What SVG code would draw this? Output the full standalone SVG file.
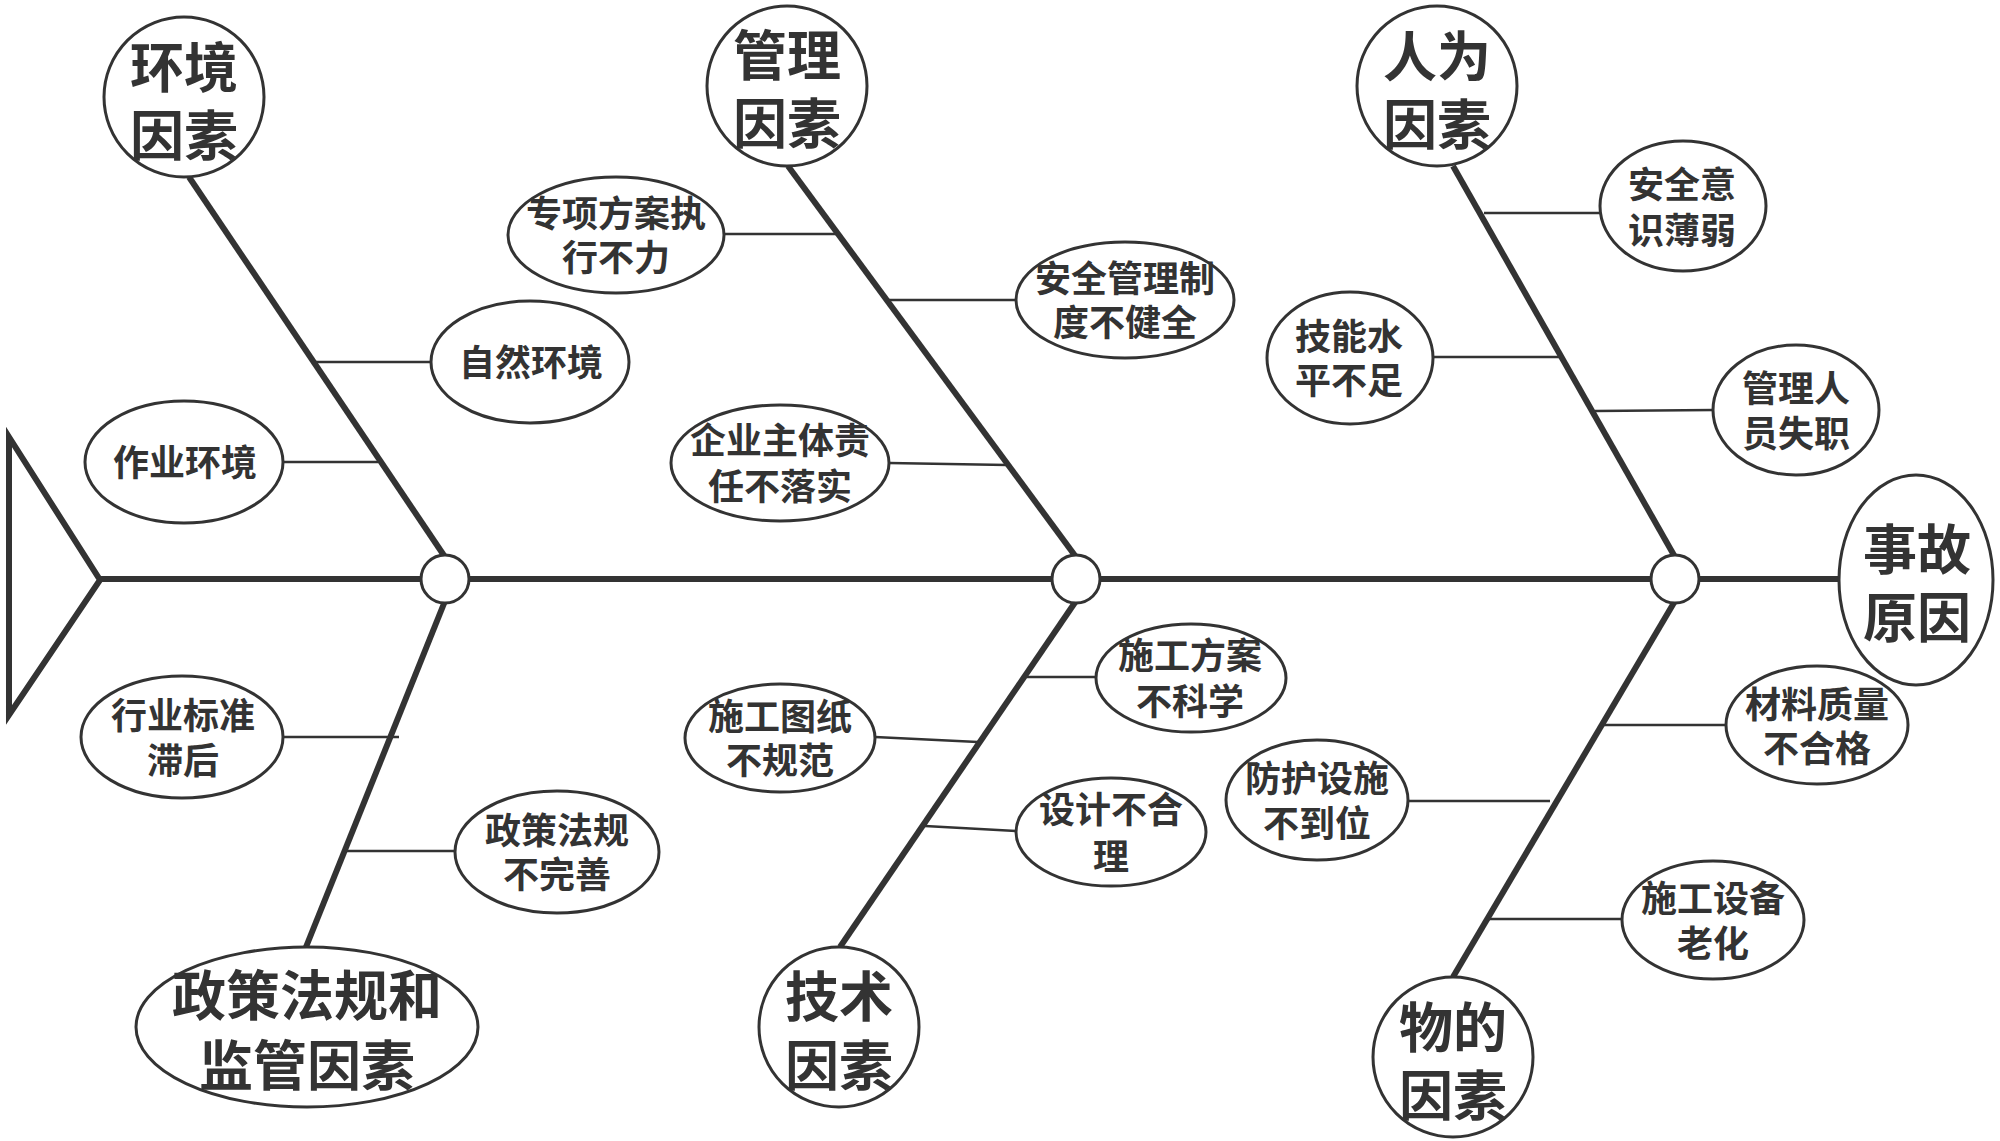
<svg xmlns="http://www.w3.org/2000/svg" width="2000" height="1141" viewBox="0 0 2000 1141">
<style>
.bg{fill:#ffffff}
.node ellipse{fill:#ffffff;stroke:#333333;stroke-width:3}
.jn{fill:#ffffff;stroke:#333333;stroke-width:3}
.t{font-family:"Noto Sans CJK SC","Noto Sans",sans-serif;font-weight:700;fill:#333333;text-anchor:middle}
.s{font-size:36px}
.b{font-size:54px}
.bone{stroke:#333333;stroke-width:6;stroke-linecap:butt;fill:none}
.spine{stroke:#333333;stroke-width:6;fill:none}
.tail{stroke:#333333;stroke-width:6;fill:none;stroke-linejoin:miter}
.con{stroke:#333333;stroke-width:2.5;fill:none}
</style>
<rect class="bg" x="0" y="0" width="2000" height="1141"/>

<g id="connectors">
  <polygon class="tail" points="9,437 100,580 9,715"/>
  <line class="spine" x1="100" y1="579" x2="1840" y2="579"/>
  <line class="bone" x1="189" y1="177" x2="445" y2="557"/>
  <line class="bone" x1="788" y1="166" x2="1076" y2="557"/>
  <line class="bone" x1="1453" y1="166" x2="1675" y2="557"/>
  <line class="bone" x1="445" y1="601" x2="306" y2="947"/>
  <line class="bone" x1="1076" y1="601" x2="840" y2="947"/>
  <line class="bone" x1="1675" y1="601" x2="1453" y2="977"/>
  <line class="con" x1="283" y1="462" x2="378" y2="462"/>
  <line class="con" x1="315" y1="362" x2="431" y2="362"/>
  <line class="con" x1="724" y1="234" x2="837" y2="234"/>
  <line class="con" x1="888" y1="300" x2="1016" y2="300"/>
  <line class="con" x1="889" y1="463" x2="1007" y2="465"/>
  <line class="con" x1="1484" y1="213" x2="1600" y2="213"/>
  <line class="con" x1="1433" y1="357" x2="1561" y2="357"/>
  <line class="con" x1="1595" y1="411" x2="1714" y2="410"/>
  <line class="con" x1="283" y1="737" x2="399" y2="737"/>
  <line class="con" x1="346" y1="851" x2="455" y2="851"/>
  <line class="con" x1="875" y1="737" x2="978" y2="742"/>
  <line class="con" x1="1027" y1="677" x2="1096" y2="677"/>
  <line class="con" x1="925" y1="826" x2="1016" y2="831"/>
  <line class="con" x1="1408" y1="801" x2="1550" y2="801"/>
  <line class="con" x1="1604" y1="725" x2="1726" y2="725"/>
  <line class="con" x1="1488" y1="919" x2="1622" y2="919"/>
  <circle class="jn" cx="445" cy="579" r="24"/>
  <circle class="jn" cx="1076" cy="579" r="24"/>
  <circle class="jn" cx="1675" cy="579" r="24"/>
</g>

<g id="node-huanjing" class="node">
  <ellipse cx="184" cy="97" rx="80" ry="80"/>
  <text class="t b"><tspan x="184" y="88">环境</tspan><tspan x="184" y="156">因素</tspan></text>
</g>
<g id="node-guanli" class="node">
  <ellipse cx="787" cy="86" rx="80" ry="80"/>
  <text class="t b"><tspan x="787" y="76">管理</tspan><tspan x="787" y="144">因素</tspan></text>
</g>
<g id="node-renwei" class="node">
  <ellipse cx="1437" cy="86" rx="80" ry="80"/>
  <text class="t b"><tspan x="1437" y="77">人为</tspan><tspan x="1437" y="145">因素</tspan></text>
</g>
<g id="node-shigu" class="node">
  <ellipse cx="1916" cy="580" rx="77" ry="105"/>
  <text class="t b"><tspan x="1917" y="570">事故</tspan><tspan x="1917" y="638">原因</tspan></text>
</g>
<g id="node-zhengce" class="node">
  <ellipse cx="307" cy="1027" rx="171" ry="80"/>
  <text class="t b"><tspan x="307" y="1016">政策法规和</tspan><tspan x="307" y="1086">监管因素</tspan></text>
</g>
<g id="node-jishu" class="node">
  <ellipse cx="839" cy="1027" rx="80" ry="80"/>
  <text class="t b"><tspan x="839" y="1017">技术</tspan><tspan x="839" y="1086">因素</tspan></text>
</g>
<g id="node-wude" class="node">
  <ellipse cx="1453" cy="1057" rx="80" ry="80"/>
  <text class="t b"><tspan x="1453" y="1048">物的</tspan><tspan x="1453" y="1116">因素</tspan></text>
</g>

<g id="node-zuoye" class="node">
  <ellipse cx="184" cy="462" rx="99" ry="61"/>
  <text class="t s" x="185" y="476">作业环境</text>
</g>
<g id="node-ziran" class="node">
  <ellipse cx="530" cy="362" rx="99" ry="61"/>
  <text class="t s" x="531" y="376">自然环境</text>
</g>
<g id="node-zhuanxiang" class="node">
  <ellipse cx="616" cy="235" rx="108" ry="58"/>
  <text class="t s"><tspan x="616" y="227">专项方案执</tspan><tspan x="616" y="271">行不力</tspan></text>
</g>
<g id="node-anquanguanli" class="node">
  <ellipse cx="1125" cy="300" rx="109" ry="58"/>
  <text class="t s"><tspan x="1125" y="292">安全管理制</tspan><tspan x="1125" y="336">度不健全</tspan></text>
</g>
<g id="node-qiye" class="node">
  <ellipse cx="780" cy="463" rx="109" ry="58"/>
  <text class="t s"><tspan x="780" y="454">企业主体责</tspan><tspan x="780" y="500">任不落实</tspan></text>
</g>
<g id="node-anquanyishi" class="node">
  <ellipse cx="1683" cy="206" rx="83" ry="65"/>
  <text class="t s"><tspan x="1682" y="198">安全意</tspan><tspan x="1682" y="244">识薄弱</tspan></text>
</g>
<g id="node-jineng" class="node">
  <ellipse cx="1350" cy="358" rx="83" ry="66"/>
  <text class="t s"><tspan x="1349" y="350">技能水</tspan><tspan x="1349" y="394">平不足</tspan></text>
</g>
<g id="node-guanlirenyuan" class="node">
  <ellipse cx="1796" cy="410" rx="83" ry="65"/>
  <text class="t s"><tspan x="1796" y="402">管理人</tspan><tspan x="1796" y="447">员失职</tspan></text>
</g>
<g id="node-hangye" class="node">
  <ellipse cx="182" cy="737" rx="101" ry="61"/>
  <text class="t s"><tspan x="183" y="729">行业标准</tspan><tspan x="183" y="774">滞后</tspan></text>
</g>
<g id="node-zhengcefagui" class="node">
  <ellipse cx="557" cy="852" rx="102" ry="61"/>
  <text class="t s"><tspan x="557" y="844">政策法规</tspan><tspan x="557" y="888">不完善</tspan></text>
</g>
<g id="node-tuzhi" class="node">
  <ellipse cx="780" cy="738" rx="95" ry="54"/>
  <text class="t s"><tspan x="780" y="730">施工图纸</tspan><tspan x="780" y="774">不规范</tspan></text>
</g>
<g id="node-fangan" class="node">
  <ellipse cx="1191" cy="678" rx="95" ry="54"/>
  <text class="t s"><tspan x="1190" y="669">施工方案</tspan><tspan x="1190" y="715">不科学</tspan></text>
</g>
<g id="node-sheji" class="node">
  <ellipse cx="1111" cy="832" rx="95" ry="54"/>
  <text class="t s"><tspan x="1111" y="823">设计不合</tspan><tspan x="1111" y="870">理</tspan></text>
</g>
<g id="node-fanghu" class="node">
  <ellipse cx="1317" cy="800" rx="91" ry="60"/>
  <text class="t s"><tspan x="1317" y="792">防护设施</tspan><tspan x="1317" y="837">不到位</tspan></text>
</g>
<g id="node-cailiao" class="node">
  <ellipse cx="1817" cy="725" rx="91" ry="59"/>
  <text class="t s"><tspan x="1817" y="718">材料质量</tspan><tspan x="1817" y="762">不合格</tspan></text>
</g>
<g id="node-shebei" class="node">
  <ellipse cx="1713" cy="920" rx="91" ry="59"/>
  <text class="t s"><tspan x="1713" y="912">施工设备</tspan><tspan x="1713" y="957">老化</tspan></text>
</g>
</svg>
